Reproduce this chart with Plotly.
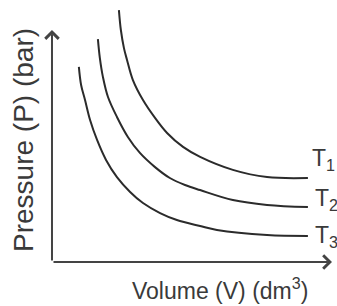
import plotly.graph_objects as go

# Isotherm curves (arbitrary units)
t1_volume = [2.39, 2.46, 2.57, 2.68, 2.89, 3.25, 3.68, 4.11, 4.68, 5.29, 6.46, 7.68, 9.14]
t1_pressure = [10.86, 10.0, 9.22, 8.71, 7.84, 6.98, 6.21, 5.56, 4.96, 4.53, 3.97, 3.66, 3.62]

t2_volume = [1.64, 1.71, 1.82, 2.0, 2.32, 2.71, 3.14, 3.68, 4.21, 4.75, 5.29, 6.46, 7.68, 9.14]
t2_pressure = [9.61, 8.79, 7.97, 7.11, 6.25, 5.39, 4.70, 4.09, 3.62, 3.32, 3.10, 2.67, 2.46, 2.37]

t3_volume = [0.96, 1.04, 1.18, 1.36, 1.61, 1.93, 2.32, 2.79, 3.25, 3.86, 4.46, 5.29, 5.89, 7.68, 9.14]
t3_pressure = [8.41, 7.63, 6.98, 6.12, 5.26, 4.40, 3.66, 3.02, 2.54, 2.11, 1.81, 1.55, 1.38, 1.16, 1.12]

series_labels = ["T<sub>1</sub>", "T<sub>2</sub>", "T<sub>3</sub>"]
x_title = "Volume (V) (dm<sup>3</sup>)"
y_title = "Pressure (P) (bar)"
axis_max = 10

curve_color = "#2b2b2b"
axis_color = "#444444"
text_color = "#3a3a3a"
font_family = "Liberation Sans, Arial, sans-serif"

fig = go.Figure()
series = [(t1_volume, t1_pressure), (t2_volume, t2_pressure), (t3_volume, t3_pressure)]
for vx, py in series:
    fig.add_trace(go.Scatter(x=vx, y=py, mode="lines",
                             line=dict(color=curve_color, width=2, shape="spline", smoothing=1.0),
                             hoverinfo="skip", showlegend=False))

annotations = []
# axes drawn as arrows
annotations.append(dict(x=axis_max, y=0, ax=0, ay=0, xref="x", yref="y", axref="x", ayref="y",
                        showarrow=True, arrowhead=4, arrowsize=1.3, arrowwidth=2,
                        arrowcolor=axis_color, text=""))
annotations.append(dict(x=0, y=axis_max, ax=0, ay=0, xref="x", yref="y", axref="x", ayref="y",
                        showarrow=True, arrowhead=4, arrowsize=1.3, arrowwidth=2,
                        arrowcolor=axis_color, text=""))

# series labels next to curve ends
label_offsets = [(0.07, 0.78), (0.18, 0.32), (0.18, 0.0)]
for (vx, py), lab, (dx, dy) in zip(series, series_labels, label_offsets):
    annotations.append(dict(x=vx[-1] + dx, y=py[-1] + dy, xref="x", yref="y", text=lab,
                            showarrow=False, xanchor="left", yanchor="middle",
                            font=dict(family=font_family, size=23, color=text_color)))

annotations.append(dict(x=6.0, y=-1.16, xref="x", yref="y", text=x_title, showarrow=False,
                        xanchor="center", yanchor="middle",
                        font=dict(family=font_family, size=23, color=text_color)))
annotations.append(dict(x=-1.0, y=5.26, xref="x", yref="y", text=y_title, showarrow=False,
                        textangle=-90, xanchor="center", yanchor="middle",
                        font=dict(family=font_family, size=28, color=text_color)))

fig.update_layout(
    width=337, height=306, autosize=False,
    margin=dict(l=0, r=0, t=0, b=0),
    paper_bgcolor="white", plot_bgcolor="white",
    xaxis=dict(range=[-1.857, 10.179], visible=False, fixedrange=True),
    yaxis=dict(range=[-1.897, 11.293], visible=False, fixedrange=True),
    annotations=annotations,
)

fig.write_html("out.html", config={"displayModeBar": False},
               post_script="document.body.style.margin='0';document.body.style.overflow='hidden';")
